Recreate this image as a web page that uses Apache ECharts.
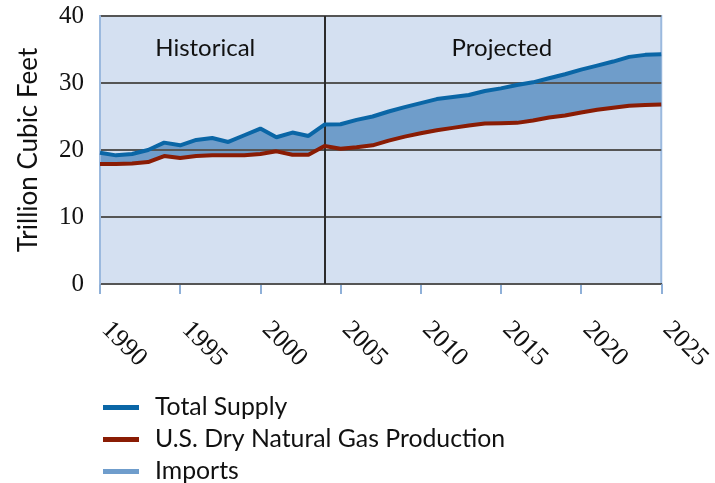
<!DOCTYPE html>
<html>
<head>
<meta charset="utf-8">
<script src="https://cdn.jsdelivr.net/npm/echarts@6/dist/echarts.min.js"></script>
<style>
html,body{margin:0;padding:0;background:#fff;}
#chart{width:715px;height:483px;}
</style>
</head>
<body>
<div id="chart"></div>
<script>
const years = ['1990','1991','1992','1993','1994','1995','1996','1997','1998','1999','2000','2001','2002','2003','2004','2005','2006','2007','2008','2009','2010','2011','2012','2013','2014','2015','2016','2017','2018','2019','2020','2021','2022','2023','2024','2025'];
const totalSupply = [19.6,19.2,19.4,20.0,21.1,20.7,21.5,21.8,21.2,22.2,23.2,21.9,22.6,22.1,23.8,23.85,24.5,25.0,25.75,26.4,27.0,27.6,27.9,28.2,28.8,29.2,29.7,30.1,30.7,31.3,32.0,32.6,33.2,33.9,34.2,34.3];
const production = [17.9,17.9,18.0,18.2,19.1,18.8,19.1,19.2,19.2,19.2,19.4,19.8,19.3,19.3,20.6,20.2,20.4,20.7,21.4,22.0,22.5,22.95,23.3,23.65,23.95,24.0,24.05,24.4,24.85,25.15,25.6,26.0,26.3,26.6,26.7,26.8];
const yTicks = [0,10,20,30,40];
const xTickStep = 5;
const splitYear = '2004';
const periodLabels = ['Historical','Projected'];
const seriesNames = ['Total Supply','U.S. Dry Natural Gas Production','Imports'];

const imports = totalSupply.map((v,i)=> +(v - production[i]).toFixed(2));

const sansFont = 'Lato, "Open Sans", sans-serif';
const serifFont = '"Liberation Serif", "DejaVu Serif", serif';

const chart = echarts.init(document.getElementById('chart'), null, {renderer:'canvas'});
chart.setOption({
  animation:false,
  grid:{left:100,right:51,top:16,bottom:199,show:true,backgroundColor:'#d4e0f1',borderColor:'#9bb9de',borderWidth:2},
  legend:{
    orient:'vertical', left:98, top:390, height:120, itemWidth:36, itemHeight:5, itemGap:7, icon:'rect',
    data:seriesNames,
    textStyle:{fontFamily:sansFont,fontSize:24.8,lineHeight:24,color:'#111',padding:[0,0,0,11]}
  },
  xAxis:{
    type:'category', data:years, boundaryGap:false,
    axisLine:{show:true,onZero:false,lineStyle:{color:'#333',width:2}},
    axisTick:{show:true,interval:xTickStep-1,length:10,lineStyle:{color:'#8fb0d8',width:2}},
    splitLine:{show:false},
    axisLabel:{interval:xTickStep-1,rotate:-45,margin:36,padding:[0,0,0,8],fontFamily:serifFont,fontSize:26,color:'#111'}
  },
  yAxis:{
    type:'value', min:yTicks[0], max:yTicks[yTicks.length-1], interval:10, z:3,
    name:'Trillion Cubic Feet', nameLocation:'middle', nameGap:58,
    nameTextStyle:{fontFamily:sansFont,fontSize:26,color:'#111'},
    axisLine:{show:true,lineStyle:{color:'#9bb9de',width:2}},
    axisTick:{show:false},
    splitLine:{show:true,lineStyle:{color:'#555',width:2}},
    axisLabel:{margin:16,fontFamily:serifFont,fontSize:25,color:'#111'}
  },
  series:[
    {
      name:'base', type:'line', stack:'s', data:production, symbol:'none', silent:true,
      lineStyle:{opacity:0,width:0}, z:1
    },
    {
      name:seriesNames[2], type:'line', stack:'s', data:imports, symbol:'none',
      color:'#6f9dcc', lineStyle:{width:0}, areaStyle:{color:'#6f9dca',opacity:1}, z:2
    },
    {
      name:seriesNames[0], type:'line', data:totalSupply, symbol:'none',
      color:'#0a66a6', lineStyle:{width:4,color:'#0a66a6'}, z:6,
      markArea:{
        silent:true,
        itemStyle:{color:'rgba(0,0,0,0)'},
        label:{show:true,position:'insideTop',distance:20,fontFamily:sansFont,fontSize:24,color:'#111'},
        data:[
          [{name:periodLabels[0],xAxis:years[0],label:{offset:[-7,0]}},{xAxis:splitYear}],
          [{name:periodLabels[1],xAxis:splitYear,label:{offset:[9,0]}},{xAxis:years[years.length-1]}]
        ]
      },
      markLine:{
        silent:true, symbol:'none', label:{show:false},
        lineStyle:{color:'#2b2b2b',width:2,type:'solid'},
        data:[{xAxis:splitYear}]
      }
    },
    {
      name:seriesNames[1], type:'line', data:production, symbol:'none',
      color:'#8a1c04', lineStyle:{width:4,color:'#8a1c04'}, z:5
    }
  ]
});
</script>
</body>
</html>
